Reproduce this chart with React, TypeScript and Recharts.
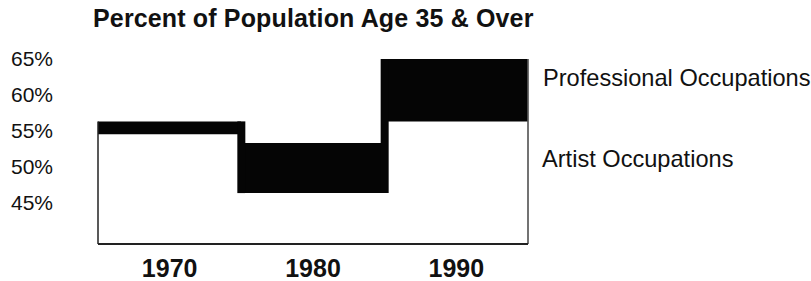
import { BarChart, Bar, XAxis, YAxis, ReferenceLine } from 'recharts'

// decade blocks, values in percent age 35 & over
const years = ['1970', '1980', '1990']
const professional = [56.3, 53.3, 65]
const artist = [54.5, 46.3, 56.3]
const yTicks = [45, 50, 55, 60, 65]

const data = years.map((year, i) => ({
  year,
  band: [Math.min(artist[i], professional[i]), Math.max(artist[i], professional[i])],
  low: Math.min(artist[i], professional[i]),
  high: Math.max(artist[i], professional[i]),
}))

// thick black risers where one decade steps to the next
const risers = data.slice(1).map((d, i) => ({
  x: d.year,
  from: Math.min(d.low, data[i].low),
  to: Math.max(d.high, data[i].high),
}))

const font = '"Liberation Sans", Arial, Helvetica, sans-serif'
const ink = '#111'
const yMin = 39.2

export default function App() {
  return (
    <div style={{ position: 'absolute', left: 0, top: 0, width: 811, height: 281, background: '#fff', fontFamily: font }}>
      <BarChart
        width={811}
        height={281}
        data={data}
        barCategoryGap={0}
        margin={{ top: 59, right: 283, left: 0, bottom: 0 }}
      >
        <XAxis
          dataKey="year"
          height={37}
          tickLine={false}
          tickMargin={9}
          axisLine={{ stroke: '#222', strokeWidth: 2 }}
          tick={{ fill: ink, fontSize: 25, fontWeight: 700, fontFamily: font }}
        />
        <YAxis
          type="number"
          domain={[yMin, 65]}
          allowDataOverflow
          ticks={yTicks}
          width={98}
          axisLine={false}
          tickLine={false}
          tickMargin={39}
          tickFormatter={v => `${v}%`}
          tick={{ fill: ink, fontSize: 21, fontFamily: font }}
        />
        <Bar dataKey="band" fill="#050505" isAnimationActive={false} />
        {risers.map(r => (
          <ReferenceLine
            key={r.x}
            segment={[{ x: r.x, y: r.from }, { x: r.x, y: r.to }]}
            position="start"
            stroke="#050505"
            strokeWidth={8}
          />
        ))}
        <ReferenceLine
          segment={[{ x: '1970', y: yMin }, { x: '1970', y: data[0].high }]}
          position="start"
          stroke="#222"
          strokeWidth={1.5}
        />
        <ReferenceLine
          segment={[{ x: '1990', y: yMin }, { x: '1990', y: data[2].high }]}
          position="end"
          stroke="#444"
          strokeWidth={1.5}
        />
      </BarChart>
      <svg width={811} height={281} style={{ position: 'absolute', left: 0, top: 0, pointerEvents: 'none' }}>
        <text x={93} y={27} fontSize={25} fontWeight={700} fill={ink} fontFamily={font} letterSpacing={0.15}>
          Percent of Population Age 35 &amp; Over
        </text>
        <text x={543} y={86} fontSize={23.6} fill={ink} fontFamily={font}>Professional Occupations</text>
        <text x={542} y={167} fontSize={23.6} fill={ink} fontFamily={font}>Artist Occupations</text>
      </svg>
    </div>
  )
}
